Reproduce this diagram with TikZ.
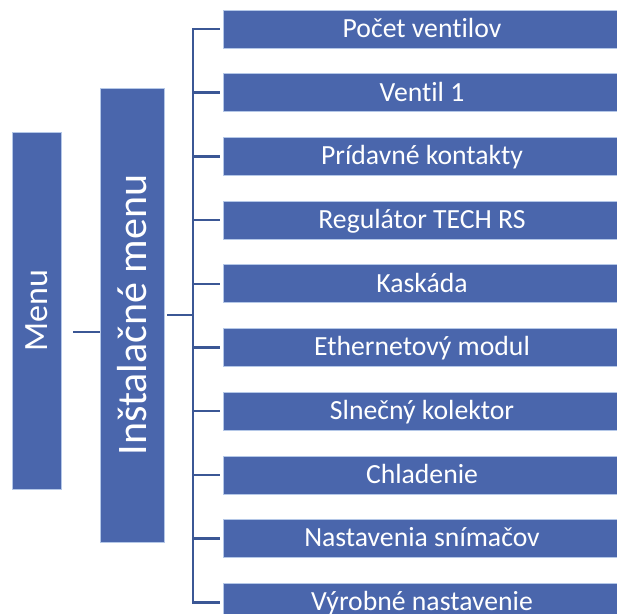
\documentclass[tikz,border=0pt]{standalone}
\usepackage{fontspec}
\setmainfont{Carlito}[Ligatures=NoCommon]
\definecolor{boxblue}{HTML}{4A66AC}
\definecolor{linkblue}{HTML}{3B5795}
\definecolor{rimblue}{HTML}{B4C7E7}
\tikzset{
  panel/.style={fill=boxblue, draw=rimblue, line width=0.8pt, inner sep=0pt},
  itembox/.style={panel, minimum width=398pt, minimum height=38pt, text=white,
    text height=20pt, text depth=3.4pt, font=\fontsize{27.7}{30}\selectfont},
  vlabel/.style={rotate=90, text=white, inner sep=0pt},
  link/.style={draw=linkblue, line width=2.5pt},
}
\begin{document}
\begin{tikzpicture}[x=1pt,y=-1pt]
  \useasboundingbox (0,0) rectangle (617,613);
  % left column
  \node[panel, minimum width=49pt, minimum height=357pt] (menu) at (36.5,310.5) {};
  \node[vlabel, font=\fontsize{34}{36}\selectfont] (menutext) at (menu.center) {Menu};
  \node[panel, minimum width=64pt, minimum height=454pt] (inst) at (132,315) {};
  \node[vlabel, font=\fontsize{42}{44}\selectfont] (insttext) at (inst.center) {Inštalačné menu};
  \coordinate (m) at ([yshift=-21.5pt]menu.east);
  \draw[link, line width=2pt, shorten <=12pt] (m) -- (inst.west |- m);
  % items
  \coordinate (bus) at (193,315);
  \draw[link, shorten <=3pt] (inst.east) -- (bus);
  \foreach \txt [count=\i] in {Počet ventilov, Ventil 1, Prídavné kontakty,
      Regulátor TECH RS, Kaskáda, Ethernetový modul, Slnečný kolektor,
      Chladenie, Nastavenia snímačov, Výrobné nastavenie} {
    \node[itembox] (i\i) at (422, {29+63.7*(\i-1)}) {\txt};
    \draw[link, shorten >=3pt] (bus |- i\i.west) -- (i\i.west);
  }
  \draw[link, line cap=rect] (bus |- i1.west) -- (bus |- i10.west);
\end{tikzpicture}
\end{document}
